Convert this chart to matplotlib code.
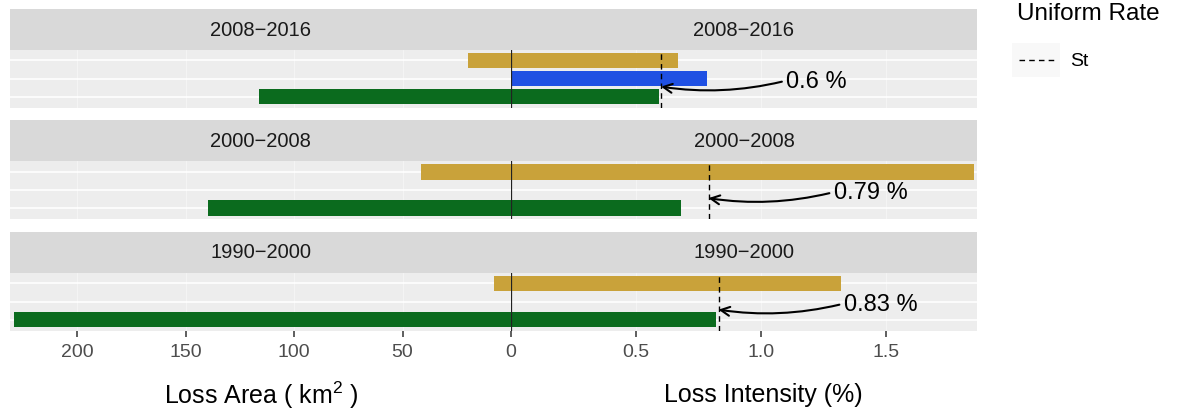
import numpy as np
import matplotlib
matplotlib.use("Agg")
import matplotlib.pyplot as plt
from matplotlib.lines import Line2D
from matplotlib.patches import Rectangle

plt.rcParams['font.family'] = ['Liberation Sans', 'DejaVu Sans']
plt.rcParams['mathtext.fontset'] = 'custom'
plt.rcParams['mathtext.rm'] = 'Liberation Sans'
plt.rcParams['mathtext.it'] = 'Liberation Sans'

# ---------------- data ----------------
periods = ['2008\u22122016', '2000\u22122008', '1990\u22122000']
gold_area = [19.7, 41.5, 7.7]          # km2 (left side)
gold_int = [0.667, 1.85, 1.318]        # % (right side)
blue_area = [0.0, np.nan, np.nan]
blue_int = [0.782, np.nan, np.nan]
green_area = [116.0, 139.5, 229.0]
green_int = [0.59, 0.679, 0.82]
uniform_rate = [0.6, 0.79, 0.83]
rate_labels = ['0.6 %', '0.79 %', '0.83 %']
area_ticks = [200, 150, 100, 50]
int_ticks = [0, 0.5, 1.0, 1.5]
int_tick_labels = ['0', '0.5', '1.0', '1.5']

GOLD = '#C9A23A'
BLUE = '#1F50E3'
GREEN = '#0B6B1E'
PANEL_BG = '#EDEDED'
STRIP_BG = '#D9D9D9'

W, H = 1178, 410
fig = plt.figure(figsize=(W / 100, H / 100), dpi=100)

def rect(x0, y0, x1, y1):
    # pixel coords, y from top
    return [x0 / W, 1 - y1 / H, (x1 - x0) / W, (y1 - y0) / H]

X0, XC, X1 = 10, 511, 977
LEFT_MAX = (XC - X0) / 2.169
RIGHT_MAX = (X1 - XC) / 250.0

strip_tops = [9.5, 121.0, 232.5]
STRIP_H = 41.0
BODY_H = 58.0

for i, per in enumerate(periods):
    st = strip_tops[i]
    bt = st + STRIP_H
    bb = bt + BODY_H
    # strip
    sax = fig.add_axes(rect(X0, st, X1, bt))
    sax.set_facecolor(STRIP_BG)
    sax.set_xticks([]); sax.set_yticks([])
    for s in sax.spines.values():
        s.set_visible(False)
    sax.text(0.5 * (XC - X0) / (X1 - X0), 0.5, per, ha='center', va='center',
             fontsize=14.5, color='#1A1A1A', transform=sax.transAxes)
    sax.text((XC - X0 + 0.5 * (X1 - XC)) / (X1 - X0), 0.5, per, ha='center', va='center',
             fontsize=14.5, color='#1A1A1A', transform=sax.transAxes)

    axL = fig.add_axes(rect(X0, bt, XC, bb))
    axR = fig.add_axes(rect(XC, bt, X1, bb))
    for ax in (axL, axR):
        ax.set_facecolor(PANEL_BG)
        for s in ax.spines.values():
            s.set_visible(False)
        ax.set_ylim(3.6, 0.4)
        ax.set_yticks([])
        for yy in (1, 2, 3):
            ax.axhline(yy, color='white', lw=1.2, zorder=0.5)
    axL.set_xlim(LEFT_MAX, 0)
    axR.set_xlim(0, RIGHT_MAX)
    for t in area_ticks:
        axL.axvline(t, color='#F6F6F6', lw=0.6, zorder=0.4)
    for t in int_ticks:
        axR.axvline(t, color='#F6F6F6', lw=0.6, zorder=0.4)

    bh = 0.86
    # left side bars (area)
    axL.barh(1, gold_area[i], left=0, height=bh, color=GOLD, zorder=2)
    if not np.isnan(blue_area[i]):
        axL.barh(2, blue_area[i], left=0, height=bh, color=BLUE, zorder=2)
    axL.barh(3, green_area[i], left=0, height=bh, color=GREEN, zorder=2)
    # right side bars (intensity)
    axR.barh(1, gold_int[i], left=0, height=bh, color=GOLD, zorder=2)
    if not np.isnan(blue_int[i]):
        axR.barh(2, blue_int[i], left=0, height=bh, color=BLUE, zorder=2)
    axR.barh(3, green_int[i], left=0, height=bh, color=GREEN, zorder=2)

    axR.axvline(0, color='#222222', lw=0.9, zorder=3)
    axR.axvline(uniform_rate[i], color='black', lw=1.0, ls=(0, (4, 3)), zorder=3)

    axR.annotate(rate_labels[i], xy=(uniform_rate[i], 2.45),
                 xytext=(uniform_rate[i] + 0.5, 2.12),
                 ha='left', va='center', fontsize=17, color='black',
                 arrowprops=dict(arrowstyle='->', color='black', lw=1.5,
                                 connectionstyle='arc3,rad=-0.1',
                                 relpos=(0, 0.5), shrinkA=1, shrinkB=0,
                                 mutation_scale=16), zorder=5)

    if i == len(periods) - 1:
        axL.set_xticks(area_ticks)
        axL.set_xticklabels([str(t) for t in area_ticks])
        axR.set_xticks(int_ticks)
        axR.set_xticklabels(int_tick_labels)
        for ax in (axL, axR):
            ax.tick_params(axis='x', length=4, width=1.1, color='#333333',
                           labelsize=14, labelcolor='#4D4D4D', pad=5)
    else:
        axL.set_xticks([]); axR.set_xticks([])

# axis titles
fig.text(261 / W, 1 - 395 / H, 'Loss Area ( km$^2$ )', ha='center', va='center',
         fontsize=18, color='black')
fig.text(763 / W, 1 - 395 / H, 'Loss Intensity (%)', ha='center', va='center',
         fontsize=18, color='black')

# legend
fig.text(1017 / W, 1 - 14 / H, 'Uniform Rate', ha='left', va='center',
         fontsize=17.5, color='black')
fig.add_artist(Rectangle((1012 / W, 1 - 78 / H), 48 / W, 34 / H,
                         transform=fig.transFigure, facecolor='#F8F8F8',
                         edgecolor='none'))
fig.add_artist(Line2D([1019 / W, 1054 / W], [1 - 61 / H, 1 - 61 / H],
                      transform=fig.transFigure, color='black', lw=1.0,
                      ls=(0, (4, 3))))
fig.text(1070 / W, 1 - 61 / H, 'St', ha='left', va='center', fontsize=14,
         color='black')

fig.savefig('out.png', dpi=100)
